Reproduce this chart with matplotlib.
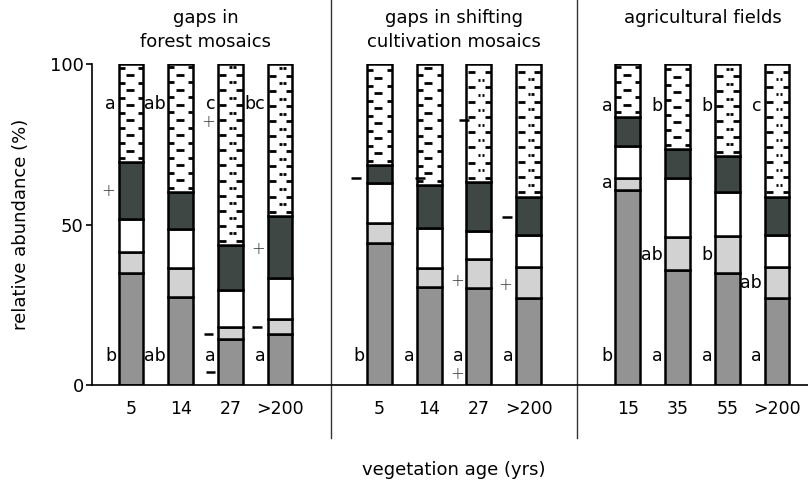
import matplotlib
matplotlib.use("Agg")
import matplotlib.pyplot as plt
import numpy as np

plt.rcParams['font.family'] = ['DejaVu Sans']

# panel titles and vegetation ages
panel_titles = ["gaps in\nforest mosaics", "gaps in shifting\ncultivation mosaics", "agricultural fields"]
age_labels = ["5", "14", "27", ">200",
              "5", "14", "27", ">200",
              "15", "35", "55", ">200"]
bar_pos = [0, 1, 2, 3, 5, 6, 7, 8, 10, 11, 12, 13]

# segment sizes (%), bottom to top
seg_gray = [35.0, 27.5, 14.2, 15.9, 44.1, 30.4, 30.1, 27.2, 60.7, 35.8, 34.8, 27.2]
seg_light = [6.5, 8.8, 3.8, 4.7, 6.3, 5.9, 9.0, 9.7, 3.7, 10.2, 11.7, 9.7]
seg_white = [10.2, 12.2, 11.6, 12.6, 12.6, 12.5, 9.0, 9.7, 10.2, 18.6, 13.5, 9.7]
seg_dark = [17.7, 11.6, 14.0, 19.5, 5.5, 13.5, 15.2, 12.1, 9.0, 8.9, 11.4, 12.1]
# top segment (dashed) fills up to 100
dotted = [False, False, True, True, False, False, True, True, False, False, True, True]

# significance letters: (bar index, y, text)
letters = [(0, 87.5, "a"), (1, 87.5, "ab"), (2, 87.5, "c"), (3, 87.5, "bc"),
           (0, 9.0, "b"), (1, 9.0, "ab"), (2, 9.0, "a"), (3, 9.0, "a"),
           (4, 9.0, "b"), (5, 9.0, "a"), (6, 9.0, "a"), (7, 9.0, "a"),
           (8, 87.0, "a"), (9, 87.0, "b"), (10, 87.0, "b"), (11, 87.0, "c"),
           (8, 63.0, "a"), (9, 40.5, "ab"), (10, 40.5, "b"), (11, 31.7, "ab"),
           (8, 9.0, "b"), (9, 9.0, "a"), (10, 9.0, "a"), (11, 9.0, "a")]

# +/- signs: (bar index, x offset, y, sign)
signs = [(0, -0.46, 60.5, "+"), (2, -0.44, 82.0, "+"), (3, -0.44, 42.5, "+"),
         (2, -0.44, 15.9, "-"), (2, -0.40, 4.1, "-"), (3, -0.46, 18.2, "-"),
         (4, -0.47, 64.6, "-"), (5, -0.18, 64.4, "-"), (6, -0.30, 82.6, "-"),
         (7, -0.44, 52.4, "-"), (6, -0.44, 32.5, "+"), (6, -0.44, 3.4, "+"),
         (7, -0.47, 31.2, "+")]

c_gray = "#939393"
c_light = "#d2d2d2"
c_white = "#ffffff"
c_dark = "#3f4745"

fig = plt.figure(figsize=(8.08, 4.93), dpi=100)
ax = fig.add_axes([92 / 808, (493 - 385) / 493, 716 / 808, 321 / 493])

x = np.array(bar_pos, dtype=float)
w = 0.5
bottom = np.zeros(len(x))
for seg, col in [(seg_gray, c_gray), (seg_light, c_light), (seg_white, c_white), (seg_dark, c_dark)]:
    ax.bar(x, seg, w, bottom=bottom, color=col, edgecolor="black", linewidth=1.8, zorder=2)
    bottom = bottom + np.array(seg)
top_seg = 100 - bottom
ax.bar(x, top_seg, w, bottom=bottom, color="white", edgecolor="black", linewidth=1.8, zorder=2)

# dash texture in the top segment
for xi, b0, dots in zip(x, bottom, dotted):
    ys = np.arange(b0 + 1.3, 99.2, 2.35)
    for k, yy in enumerate(ys):
        if k % 2 == 0:
            if dots:
                pieces = [(-0.22, -0.08), (0.12, 0.25)]
            else:
                pieces = [(-0.25, -0.13), (0.15, 0.25)]
        else:
            if dots:
                pieces = [(-0.02, 0.03), (0.06, 0.11)]
            else:
                pieces = [(-0.10, 0.06)]
        for a, bb in pieces:
            ax.plot([xi + a, xi + bb], [yy, yy], color="black", lw=2.0,
                    solid_capstyle="butt", zorder=3)

for i, yy, t in letters:
    ax.text(x[i] - 0.30, yy, t, ha="right", va="center", fontsize=12.5, zorder=4)

for i, dx, yy, s in signs:
    if s == "+":
        ax.text(x[i] + dx, yy, "+", ha="center", va="center", fontsize=12,
                color="#333333", fontweight="light", zorder=4)
    else:
        ax.plot([x[i] + dx - 0.1, x[i] + dx + 0.1], [yy, yy], color="black",
                lw=1.8, solid_capstyle="butt", zorder=4)

# panel separators
for sx in [4.02, 8.98]:
    ax.axvline(sx, ymin=-0.165, ymax=1.25, color="#333333", lw=1.0, clip_on=False)

ax.set_xlim(-0.785, 13.625)
ax.set_ylim(0, 100)
ax.spines["top"].set_visible(False)
ax.spines["right"].set_visible(False)
ax.spines["left"].set_bounds(0, 100)
ax.spines["left"].set_linewidth(1.2)
ax.spines["bottom"].set_linewidth(1.2)
ax.set_yticks([0, 50, 100])
ax.tick_params(axis="y", direction="out", length=4, width=1.2, labelsize=13, pad=2)
ax.set_xticks(x)
ax.set_xticklabels(age_labels)
ax.tick_params(axis="x", length=0, labelsize=12.5, pad=11)

for k, t in enumerate(panel_titles):
    ax.text(1.5 + 5 * k, 1.172, t, transform=ax.get_xaxis_transform(),
            ha="center", va="top", fontsize=13, linespacing=1.45)

ax.set_ylabel("relative abundance (%)", fontsize=13, labelpad=14)
ax.text(6.5, -0.265, "vegetation age (yrs)", transform=ax.get_xaxis_transform(),
        ha="center", va="center", fontsize=13)

fig.savefig("out.png", dpi=100)
